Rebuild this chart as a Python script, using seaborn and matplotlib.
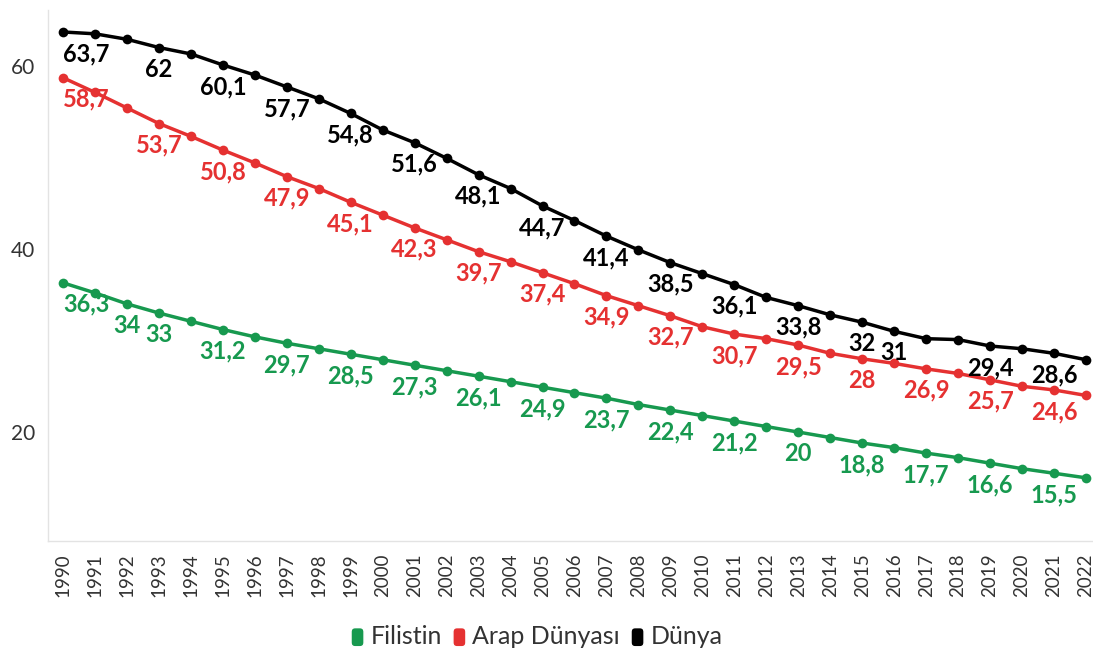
import pandas as pd
import seaborn as sns
import matplotlib.pyplot as plt
from matplotlib.patches import FancyBboxPatch, Patch
from matplotlib.legend_handler import HandlerPatch

# values
years = list(range(1990, 2023))
filistin = [36.3, 35.2, 34.0, 33.0, 32.1, 31.2, 30.4, 29.7, 29.1, 28.5, 27.9,
            27.3, 26.7, 26.1, 25.5, 24.9, 24.3, 23.7, 23.0, 22.4, 21.8, 21.2,
            20.6, 20.0, 19.4, 18.8, 18.3, 17.7, 17.2, 16.6, 16.0, 15.5, 15.0]
arap = [58.7, 57.1, 55.4, 53.7, 52.3, 50.8, 49.4, 47.9, 46.6, 45.1, 43.7,
        42.3, 41.0, 39.7, 38.6, 37.4, 36.2, 34.9, 33.8, 32.7, 31.5, 30.7,
        30.2, 29.5, 28.6, 28.0, 27.5, 26.9, 26.4, 25.7, 25.0, 24.6, 24.0]
dunya = [63.7, 63.5, 62.9, 62.0, 61.3, 60.1, 59.0, 57.7, 56.4, 54.8, 53.0,
         51.6, 49.9, 48.1, 46.6, 44.7, 43.1, 41.4, 39.9, 38.5, 37.3, 36.1,
         34.7, 33.8, 32.8, 32.0, 31.0, 30.2, 30.1, 29.4, 29.1, 28.6, 27.9]

series_names = ['Filistin', 'Arap Dünyası', 'Dünya']
colors = ['#17994f', '#e53131', '#000000']

# years that carry a value label in the reference
odd_years = list(range(1993, 2022, 2))
filistin_labels = [1990, 1992] + odd_years
arap_labels = [1990] + odd_years
dunya_labels = [1990] + [y for y in odd_years if y <= 2015] + [2016, 2019, 2021]

df = pd.DataFrame({
    'year': years * 3,
    'value': filistin + arap + dunya,
    'series': [series_names[0]] * len(years) + [series_names[1]] * len(years)
              + [series_names[2]] * len(years),
})

sns.set_style('white')
plt.rcParams['font.family'] = ['Lato', 'DejaVu Sans']

fig = plt.figure(figsize=(10.93, 6.60), dpi=100)
ax = fig.add_axes([48 / 1093, 1 - 541 / 660, 1 - 48 / 1093, 531 / 660])

palette = dict(zip(series_names, colors))
sns.lineplot(data=df, x='year', y='value', hue='series', palette=palette,
             marker='o', markersize=7, markeredgewidth=0, linewidth=2.5,
             legend=False, ax=ax)

# value labels under the points
label_years = dict(zip(series_names, [filistin_labels, arap_labels, dunya_labels]))
for name, vals in zip(series_names, [filistin, arap, dunya]):
    for yr in label_years[name]:
        v = vals[years.index(yr)]
        txt = f"{v:g}".replace('.', ',')
        ha = 'left' if yr == years[0] else 'center'
        ax.annotate(txt, (yr, v), xytext=(0, -15.5), textcoords='offset points',
                    ha=ha, va='center', fontsize=17, fontweight='bold',
                    color=palette[name])

ax.set_xlim(1989.53, 2022.22)
ax.set_ylim(8.1, 66.1)
ax.set_xticks(years)
ax.set_xticklabels([str(y) for y in years], rotation=90)
ax.set_yticks([20, 40, 60])
ax.set_xlabel('')
ax.set_ylabel('')
ax.tick_params(axis='both', width=1, color='#e3e3e3', labelcolor='#333333')
ax.tick_params(axis='x', length=7, pad=2, labelsize=13.5)
ax.tick_params(axis='y', length=5, pad=4, labelsize=15)

for s in ['top', 'right']:
    ax.spines[s].set_visible(False)
for s in ['left', 'bottom']:
    ax.spines[s].set_color('#e3e3e3')
    ax.spines[s].set_linewidth(1)


def rounded_box(legend, orig_handle, xdescent, ydescent, width, height, fontsize):
    return FancyBboxPatch((-xdescent, -ydescent - 1), width, height,
                          boxstyle='round,pad=0,rounding_size=3',
                          facecolor=orig_handle.get_facecolor(), edgecolor='none')


handles = [Patch(facecolor=c, label=n) for n, c in zip(series_names, colors)]
fig.legend(handles=handles, loc='center', bbox_to_anchor=(0.491, 1 - 637 / 660),
           ncol=3, frameon=False, fontsize=18, labelcolor='#333333',
           handlelength=0.52, handleheight=0.8, handletextpad=0.25,
           columnspacing=0.45,
           handler_map={Patch: HandlerPatch(patch_func=rounded_box)})

fig.savefig('out.png', dpi=100)
plt.close()
